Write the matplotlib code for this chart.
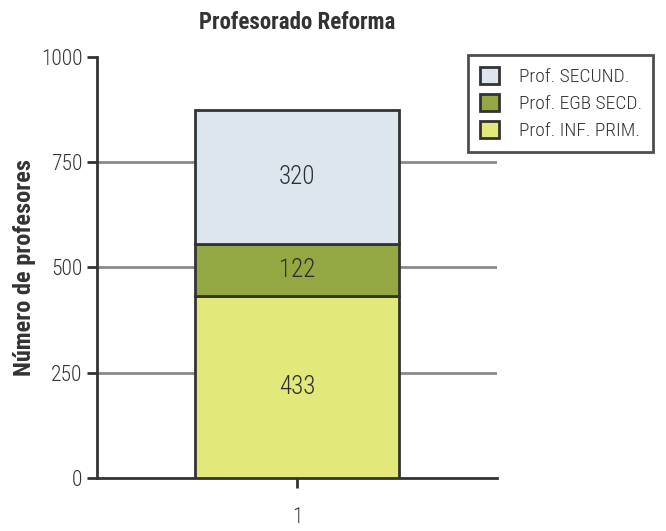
import matplotlib
matplotlib.use("Agg")
import matplotlib.pyplot as plt
from matplotlib import font_manager
import numpy as np

categories = ["1"]
series_names = ["Prof. INF. PRIM.", "Prof. EGB SECD.", "Prof. SECUND."]
inf_prim = [433]
egb_secd = [122]
secund = [320]
colors = ["#e3e87a", "#93a843", "#dde6ee"]
y_ticks = [0, 250, 500, 750, 1000]

# pick a narrow font if one is around
fonts = font_manager.fontManager.ttflist
names = {f.name for f in fonts}
stretch = "normal"
family = "Liberation Sans"
for cand in ["Liberation Sans Narrow", "Roboto Condensed", "Open Sans Condensed",
             "DejaVu Sans Condensed"]:
    if cand in names:
        family = cand
        break
else:
    for f in fonts:
        if f.name in ("Roboto", "Open Sans", "DejaVu Sans", "Noto Sans") and \
                str(f.stretch) in ("condensed", "semi-condensed", "75", "87.5"):
            family, stretch = f.name, "condensed"
            break

plt.rcParams["font.family"] = [family, "DejaVu Sans"]
plt.rcParams["font.stretch"] = stretch

fig = plt.figure(figsize=(6.66, 5.31), dpi=100)
ax = fig.add_axes([0.1456, 0.0998, 0.6006, 0.7929])

x = np.arange(1, len(categories) + 1)
bottom = np.zeros(len(categories))
handles = []
for name, vals, col in zip(series_names, [inf_prim, egb_secd, secund], colors):
    bars = ax.bar(x, vals, width=0.51, bottom=bottom, color=col,
                  edgecolor="#333333", linewidth=2, label=name, zorder=3)
    for xi, v, b in zip(x, vals, bottom):
        ax.text(xi, b + v / 2, str(v), ha="center", va="center",
                fontsize=18, fontweight="light", color="#2e2e2e", zorder=4)
    handles.append(bars)
    bottom = bottom + np.array(vals)

ax.set_xlim(0.5, 1.5)
ax.set_ylim(0, 1000)
ax.set_yticks(y_ticks)
ax.set_yticklabels([str(t) for t in y_ticks], fontweight="light")
ax.set_xticks(x)
ax.set_xticklabels(categories, fontweight="light")
ax.tick_params(axis="both", labelsize=15.5, colors="#333333", labelcolor="#333333",
               width=2, length=7, direction="out")
ax.tick_params(axis="x", pad=14)

for t in y_ticks[1:-1]:
    ax.axhline(t, color="#8a8a8a", linewidth=2, zorder=1)

for side in ["top", "right"]:
    ax.spines[side].set_visible(False)
for side in ["left", "bottom"]:
    ax.spines[side].set_color("#333333")
    ax.spines[side].set_linewidth(2)

ax.set_ylabel("Número de profesores", fontsize=17.5, fontweight="bold",
              color="#333333")
ax.yaxis.set_label_coords(-0.1525, 0.5)
ax.set_title("Profesorado Reforma", fontsize=16.5, fontweight="bold",
             color="#333333", pad=20)

leg = ax.legend(handles[::-1], series_names[::-1], loc="upper left",
                bbox_to_anchor=(0.9275, 1.005), borderaxespad=0,
                prop={"size": 14, "weight": "light"},
                frameon=True, fancybox=False, handlelength=1.0, handleheight=1.0,
                labelspacing=0.4, borderpad=0.6, handletextpad=1.0,
                labelcolor="#333333")
leg.get_frame().set_edgecolor("#222222")
leg.get_frame().set_linewidth(2)

fig.savefig("out.png", dpi=100)
